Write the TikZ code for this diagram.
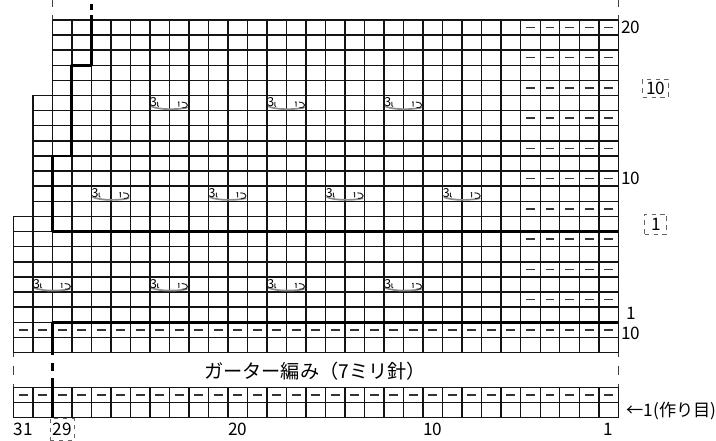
\documentclass[tikz,border=0pt]{standalone}
\usepackage{fontspec}
\setmainfont{Noto Sans CJK JP}
\begin{document}
\begin{tikzpicture}[x=9.758pt, y=7.56pt, line join=round, font=\fontsize{8.6}{9}\selectfont,
	gridlines/.style={line width=0.72pt, black!92},
	heavy/.style={line width=1.35pt, black},
	purl/.style={line width=0.7pt, black!80},
	sym/.style={line width=0.5pt, black!85},
	bar/.style={line width=0.85pt, black!45, line cap=round},
	edge dash/.style={line width=0.65pt, black!75},
	repeatbox/.style={draw=black!60, line width=0.4pt, dash pattern=on 2.2pt off 2.2pt, inner sep=0.5pt, minimum height=9pt}]
	\useasboundingbox (-0.6815,-7.85) rectangle (36.006,21.316);
	% pattern part
	\draw[gridlines] (0,0) grid[step=1] (31,7);
	\draw[gridlines] (1,7) grid[step=1] (31,15);
	\draw[gridlines] (2,15) grid[step=1] (31,20);
	% garter stitch part
	\draw[gridlines] (0,-2) grid[step=1] (31,0);
	\draw[gridlines, shift={(0,-6.3)}] (0,0) grid[step=1] (31,2);
	% purl marks
	\foreach \r in {2,4,...,20}{\foreach \c in {1,...,5}{\draw[purl] ({31.27-\c},\r-0.5)--++(0.46,0);}}
	\foreach \c in {1,...,31}{\draw[purl] ({31.27-\c},-0.5)--++(0.46,0); \draw[purl] ({31.27-\c},-4.8)--++(0.46,0);}
	% bobble symbols
	\foreach \c/\r in {30/3,24/3,18/3,12/3,27/9,21/9,15/9,9/9,24/15,18/15,12/15}{
		\begin{scope}[shift={({31-\c},{\r-1})}]
			\draw[bar] (0.08,0.27) .. controls (0.5,0.05) and (1.4,0.05) .. (1.9,0.2);
			\node[inner sep=0, font=\fontsize{6.2}{6}\selectfont] (b\c-\r) at (0.19,0.56) {3};
			\draw[sym] (0.4,0.58)--(0.4,0.32)--(0.46,0.27) (1.44,0.55)--(1.49,0.58)--(1.49,0.27);
			\draw[sym] (1.63,0.56) .. controls (2.02,0.56) and (2.02,0.16) .. (1.66,0.19);
		\end{scope}}
	% bold outline
	\draw[heavy] (31,6) -| (2,11) -| (3,17) -| (4,20);
	\draw[heavy] (31,0) -| (2,-2.16);
	\draw[heavy] (2,-3.7) -- (2,-6.3);
	% continuation marks
	\foreach \x in {2,31}{\draw[edge dash] (\x,20)--(\x,20.33) (\x,20.85)--(\x,21.32);}
	\draw[heavy] (4,20)--(4,20.32) (4,20.65)--(4,21.05);
	\foreach \x in {0,31}{\draw[edge dash] (\x,-2)--(\x,-2.28) (\x,-2.87)--(\x,-3.49) (\x,-4.1)--(\x,-4.3);}
	\draw[heavy] (2,-2.71)--(2,-3.22);
	% labels
	\node[anchor=west, inner sep=1.3pt] (r20) at (31,19.5) {20};
	\node[anchor=west, inner sep=1.3pt] (r10) at (31,9.5) {10};
	\node[inner sep=0] (r1) at (31.65,0.6) {1};
	\node[inner sep=0] (g10) at (31.65,-0.72) {10};
	\node[anchor=west, inner sep=1pt] (cast) at (31.3,-5.85) {←1(作り目)};
	\node[font=\fontsize{9.6}{11}\selectfont] (title) at (15.46,-3.22) {ガーター編み（7ミリ針）};
	\foreach \x/\n in {0.5/31, 11.5/20, 21.5/10, 30.5/1}{\node (c\n) at (\x,-7.05) {\n};}
	\node[repeatbox, minimum width=12pt, minimum height=11pt] (c29) at (2.5,-7.1) {29};
	\node[repeatbox, minimum width=13pt] (p10) at (32.92,15.5) {10};
	\node[repeatbox, minimum width=11pt, minimum height=10pt] (p1) at (32.92,6.5) {1};
\end{tikzpicture}
\end{document}
